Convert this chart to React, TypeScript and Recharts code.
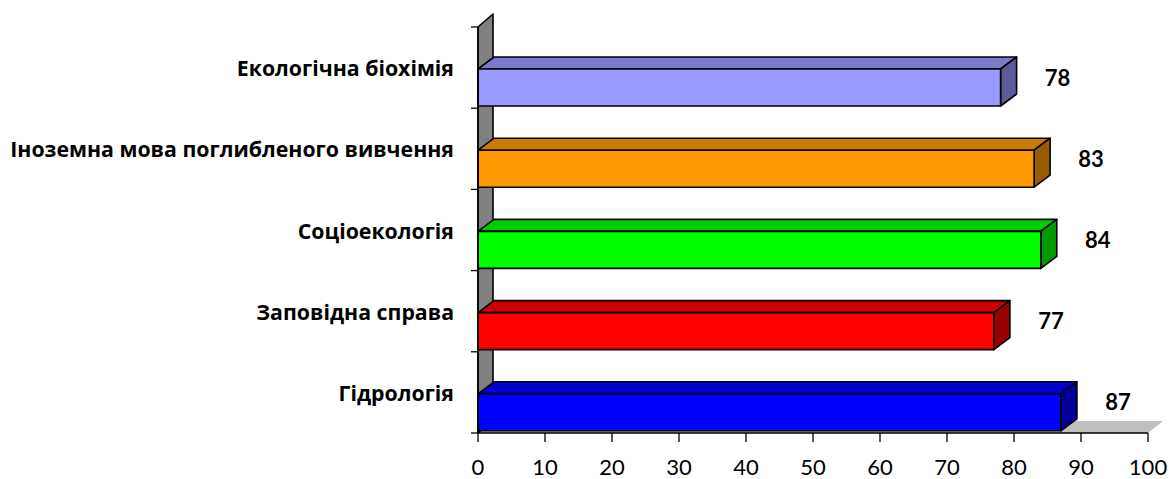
import React from 'react';
import { BarChart, Bar, XAxis, YAxis, Cell, LabelList, ReferenceArea } from 'recharts';

const categories = ['Екологічна біохімія', 'Іноземна мова поглибленого вивчення', 'Соціоекологія', 'Заповідна справа', 'Гідрологія'];
const values = [78, 83, 84, 77, 87];
const xTicks = [0, 10, 20, 30, 40, 50, 60, 70, 80, 90, 100];

const frontColors = ['#9999FF', '#FF9900', '#00FF00', '#FF0000', '#0000FF'];
const topColors = ['#7A7ACC', '#CC7A00', '#00CC00', '#CC0000', '#0000CC'];
const sideColors = ['#5C5C99', '#995C00', '#009900', '#990000', '#000099'];

const data = categories.map((name, i) => ({ name, value: values[i], idx: i }));

const DX = 16;
const DY = 12;
const SHIFT = 20;
const FONT = 'Lato, "Open Sans", sans-serif';
const CAT_FONT = '"Open Sans", Lato, sans-serif';

const Bar3D = (props: any) => {
  const { x, y, width, height, payload } = props;
  const i = payload.idx;
  const fy = y + SHIFT;
  const front = frontColors[i];
  return (
    <g stroke="#000" strokeWidth={1.6} strokeLinejoin="round">
      <polygon
        points={`${x},${fy} ${x + DX},${fy - DY} ${x + width + DX},${fy - DY} ${x + width},${fy}`}
        fill={topColors[i]}
      />
      <polygon
        points={`${x + width},${fy} ${x + width + DX},${fy - DY} ${x + width + DX},${fy + height - DY} ${x + width},${fy + height}`}
        fill={sideColors[i]}
      />
      <rect x={x} y={fy} width={width} height={height} fill={front} />
    </g>
  );
};

const ValueLabel = (props: any) => {
  const { x, y, width, value } = props;
  return (
    <text
      x={x + width + 57}
      y={y + SHIFT + 8}
      textAnchor="middle"
      dominantBaseline="central"
      fontFamily={FONT}
      fontWeight="bold"
      fontSize={22}
      fill="#000"
    >
      {value}
    </text>
  );
};

const WallFloor = (props: any) => {
  const { x, y, width, height } = props;
  const b = y + height;
  return (
    <g>
      <polygon
        points={`${x},${b} ${x + DX - 1},${b - DY} ${x + width + DX - 1},${b - DY} ${x + width},${b}`}
        fill="#C0C0C0"
      />
      <polygon
        points={`${x},${y} ${x + DX - 1},${y - DY - 1} ${x + DX - 1},${b - DY} ${x},${b}`}
        fill="#808080"
        stroke="#000"
        strokeWidth={1.6}
        strokeLinejoin="round"
      />
    </g>
  );
};

const CatTick = (props: any) => {
  const { x, y, payload, index, visibleTicksCount } = props;
  const half = payload && typeof payload.offset === 'number' && payload.offset > 0 ? payload.offset : 40.6;
  const last = index === (visibleTicksCount ?? categories.length) - 1;
  return (
    <g>
      <line x1={x - 7} y1={y - half} x2={x} y2={y - half} stroke="#000" strokeWidth={1.3} />
      {last && <line x1={x - 7} y1={y + half} x2={x} y2={y + half} stroke="#000" strokeWidth={1.3} />}
      <text
        x={x - 24}
        y={y}
        textAnchor="end"
        dominantBaseline="central"
        fontFamily={CAT_FONT}
        fontWeight="bold"
        fontSize={21.3}
        fill="#000"
      >
        {payload.value}
      </text>
    </g>
  );
};

export default function App() {
  return (
    <div style={{ position: 'absolute', left: 0, top: 0, width: 1169, height: 479, background: '#fff' }}>
      <BarChart
        width={1169}
        height={479}
        data={data}
        layout="vertical"
        margin={{ top: 27, right: 21, bottom: 0, left: 0 }}
        barSize={37}
      >
        <XAxis
          type="number"
          domain={[0, 100]}
          ticks={xTicks}
          interval={0}
          height={46}
          tickSize={9}
          tickMargin={17}
          axisLine={{ stroke: '#000', strokeWidth: 1.6 }}
          tickLine={{ stroke: '#000', strokeWidth: 1.3 }}
          tick={{ fill: '#000', fontSize: 22, fontFamily: FONT }}
        />
        <YAxis
          type="category"
          dataKey="name"
          width={478}
          tickSize={0}
          tickMargin={0}
          tickLine={false}
          interval={0}
          axisLine={{ stroke: '#000', strokeWidth: 1.6 }}
          tick={<CatTick />}
        />
        <ReferenceArea x1={0} x2={100} ifOverflow="visible" shape={<WallFloor />} fillOpacity={1} />
        <Bar dataKey="value" isAnimationActive={false} shape={<Bar3D />}>
          {data.map((d) => (
            <Cell key={d.name} fill={frontColors[d.idx]} />
          ))}
          <LabelList dataKey="value" content={<ValueLabel />} />
        </Bar>
      </BarChart>
    </div>
  );
}
